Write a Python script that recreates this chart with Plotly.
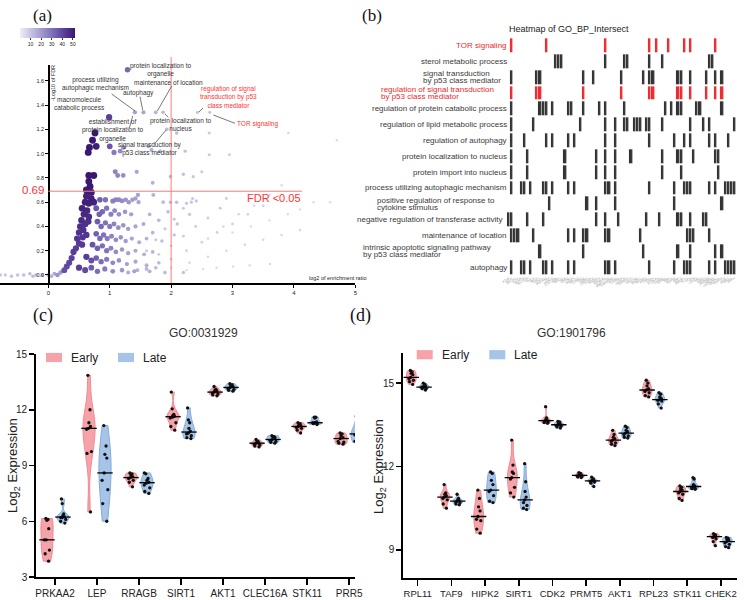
import numpy as np
import plotly.graph_objects as go

W, H = 751, 600
def fx(p): return p / W
def fy(p): return 1 - p / H

SANS = "Liberation Sans"
SERIF = "Liberation Serif"

# ---------------- Panel (a): enrichment scatter ----------------
a_x = [
    1.29, 0.99, 1.41, 1.55, 1.75, 1.87, 2.43, 2.63, 0.76, 1.93,
    0.72, 0.67, 0.78, 0.65, 1.00, 1.07, 1.17, 1.22, 1.63, 1.68, 1.82, 2.09, 2.23, 2.62, 2.62, 2.95, 3.91, 4.70,
    0.66, 0.74, 1.09, 1.13, 1.22, 1.44, 1.70, 1.99, 2.20, 2.36, 2.50, 3.80,
    0.66, 0.68, 0.62, 0.70, 0.62, 0.70, 0.60, 0.66, 0.74, 0.55, 0.63, 0.58, 0.66, 0.54, 0.60, 0.52, 0.57, 0.50, 0.56, 0.47, 0.50, 0.45, 0.41, 0.38, 0.34, 0.30, 0.26, 0.65, 0.62, 0.55,
    0.84, 0.93, 1.05, 1.10, 1.15, 1.20, 1.26, 1.31, 1.37, 1.42, 1.46, 1.47, 1.71, 1.87, 1.99, 2.09, 2.25, 2.33, 2.41, 2.90, 4.32, 4.59,
    0.78, 0.83, 0.88, 0.95, 1.02, 1.08, 1.15, 1.25, 1.35,
    0.80, 0.86, 0.93, 1.00, 1.07, 1.14, 1.22, 1.30, 1.42, 1.55,
    0.78, 0.84, 0.90, 0.96, 1.03, 1.10, 1.18, 1.26, 1.36, 1.48, 1.60,
    0.72, 0.80, 0.88, 0.95, 1.02, 1.10, 1.20, 1.30, 1.42, 1.56, 1.70,
    0.62, 0.70, 0.78, 0.86, 0.95, 1.05, 1.15, 1.28, 1.42, 1.60, 1.80,
    0.50, 0.60, 0.70, 0.80, 0.92, 1.05, 1.20, 1.40, 1.65, 1.90, 2.20,
    1.65, 1.80, 1.95, 2.10, 1.70, 1.85, 2.05, 2.30,
    1.60, 1.75, 1.90, 2.05, 2.20, 2.35,
    1.80, 2.00, 2.20, 2.40, 2.60, 2.80,
    2.00, 2.25, 2.50, 2.75, 3.00, 3.25, 3.50,
    2.00, 2.30, 2.60, 2.90, 3.20, 3.50, 3.80, 4.10,
    2.60, 2.85, 3.10, 3.35, 3.60,
    2.25, 2.52, 2.74, 3.01, 3.28, 3.61,
    3.00, 3.30, 3.60, 3.90, 4.10,
    1.30, 1.45, 1.60, 1.75,
    -0.78, -0.70, -0.60, -0.50, -0.40, -0.30, -0.20, -0.10, 0.00, 0.10, 0.20, 0.05, -0.25, 0.15,
]
a_y = [
    1.69, 1.30, 1.34, 1.34, 1.34, 1.34, 1.34, 1.34, 1.17, 1.20,
    1.11, 1.05, 1.06, 1.01, 1.06, 1.01, 1.02, 1.05, 1.06, 1.03, 1.02, 1.17, 1.02, 1.17, 0.99, 0.99, 1.17, 1.11,
    0.82, 0.82, 0.85, 0.82, 0.82, 0.85, 0.76, 0.81, 0.83, 0.81, 0.85, 0.74,
    0.77, 0.73, 0.70, 0.68, 0.65, 0.63, 0.60, 0.59, 0.60, 0.55, 0.53, 0.50, 0.48, 0.45, 0.42, 0.40, 0.37, 0.35, 0.31, 0.30, 0.26, 0.22, 0.19, 0.14, 0.10, 0.07, 0.04, 0.44, 0.33, 0.25,
    0.62, 0.62, 0.61, 0.62, 0.62, 0.61, 0.62, 0.60, 0.62, 0.63, 0.66, 0.60, 0.66, 0.60, 0.60, 0.60, 0.59, 0.60, 0.61, 0.63, 0.60, 0.60,
    0.55, 0.50, 0.52, 0.55, 0.50, 0.53, 0.50, 0.52, 0.50,
    0.44, 0.40, 0.43, 0.40, 0.42, 0.39, 0.41, 0.38, 0.40, 0.42,
    0.34, 0.30, 0.33, 0.30, 0.32, 0.29, 0.31, 0.28, 0.30, 0.27, 0.30,
    0.25, 0.22, 0.24, 0.20, 0.22, 0.19, 0.21, 0.18, 0.20, 0.17, 0.19,
    0.15, 0.12, 0.14, 0.11, 0.13, 0.10, 0.12, 0.09, 0.11, 0.08, 0.10,
    0.06, 0.04, 0.06, 0.03, 0.05, 0.03, 0.04, 0.03, 0.03, 0.02, 0.02,
    0.50, 0.45, 0.52, 0.42, 0.35, 0.28, 0.33, 0.50,
    0.20, 0.29, 0.38, 0.46, 0.55, 0.63,
    0.17, 0.24, 0.32, 0.40, 0.47, 0.55,
    0.13, 0.20, 0.27, 0.35, 0.42, 0.50, 0.57,
    0.06, 0.10, 0.15, 0.20, 0.25, 0.29, 0.33, 0.37,
    0.30, 0.40, 0.50, 0.57, 0.66,
    0.04, 0.05, 0.06, 0.07, 0.08, 0.09,
    0.35, 0.40, 0.45, 0.50, 0.54,
    0.02, 0.04, 0.05, 0.06,
    0.00, 0.00, -0.01, 0.00, 0.00, 0.01, 0.00, 0.00, 0.00, 0.01, 0.02, -0.01, -0.01, 0.00,
]
a_n = [
    32, 42, 19, 18, 14, 13, 10, 10, 52, 13,
    52, 52, 50, 52, 36, 28, 24, 22, 16, 16, 14, 12, 11, 9, 9, 8, 6, 5,
    52, 52, 26, 25, 23, 18, 15, 13, 11, 10, 9, 5,
    52, 52, 51, 51, 50, 50, 50, 50, 49, 49, 48, 48, 47, 47, 46, 46, 45, 45, 44, 44, 43, 42, 42, 41, 40, 39, 38, 46, 44, 43,
    34, 30, 27, 26, 25, 24, 22, 21, 20, 19, 19, 18, 15, 13, 12, 12, 10, 10, 10, 8, 5, 5,
    36, 34, 32, 29, 27, 25, 23, 21, 19,
    35, 32, 30, 28, 26, 24, 22, 20, 18, 16,
    34, 32, 30, 28, 26, 24, 22, 20, 18, 16, 15,
    37, 34, 31, 29, 26, 24, 21, 19, 17, 15, 14,
    42, 38, 34, 31, 28, 25, 22, 19, 17, 15, 13,
    42, 39, 35, 31, 28, 24, 21, 18, 15, 13, 11,
    14, 13, 12, 11, 14, 12, 11, 10,
    9, 9, 9, 9, 9, 9,
    8, 8, 8, 8, 8, 8,
    7, 7, 7, 7, 7, 7, 7,
    6, 6, 6, 6, 6, 6, 6, 6,
    6, 6, 6, 6, 6,
    5, 5, 5, 5, 5, 5,
    5, 5, 5, 5, 5,
    16, 15, 14, 13,
    10, 10, 11, 11, 12, 12, 13, 14, 15, 17, 20, 14, 12, 22,
]
a_yticks = [0.0, 0.2, 0.4, 0.6, 0.8, 1.0, 1.2, 1.4, 1.6]
a_xticks = [0, 1, 2, 3, 4, 5]
a_cbar_ticks = [10, 20, 30, 40, 50]
fdr_cut = 0.69
ratio_cut = 2

# term labels: text, centre (px), colour
a_labels = [
    ("protein localization to<br>organelle", 160, 70, "#333333"),
    ("process utilizing<br>autophagic mechanism", 95, 84, "#333333"),
    ("maintenance of location", 168, 83, "#333333"),
    ("autophagy", 138, 93, "#333333"),
    ("macromolecule<br>catabolic process", 79, 104, "#333333"),
    ("regulation of signal<br>transduction by p53<br>class mediator", 228, 97, "#ff3333"),
    ("TOR signaling", 257, 124, "#ff3333"),
    ("establishment of<br>protein localization to<br>organelle", 112, 131, "#333333"),
    ("protein localization to<br>nucleus", 180, 124, "#333333"),
    ("signal transduction by<br>p53 class mediator", 150, 149, "#333333"),
]
a_leaders = [
    (111.7, 94, 135, 111), (140, 96.7, 142.7, 110), (171.7, 86, 157.3, 111),
    (129.3, 128.3, 132.7, 116), (165, 114, 168.3, 117.3), (155, 143.3, 166, 130),
    (213.3, 115, 235, 123.3), (199, 112, 203, 108),
]

# ---------------- Panel (b): heatmap ----------------
b_terms = [
    "TOR signaling", "sterol metabolic process",
    "signal transduction|by p53 class mediator",
    "regulation of signal transduction|by p53 class mediator",
    "regulation of protein catabolic process",
    "regulation of lipid metabolic process", "regulation of autophagy",
    "protein localization to nucleus", "protein import into nucleus",
    "process utilizing autophagic mechanism",
    "positive regulation of response to|cytokine stimulus",
    "negative regulation of transferase activity", "maintenance of location",
    "intrinsic apoptotic signaling pathway|by p53 class mediator", "autophagy",
]
b_red_rows = [0, 3]
b_genes = [
    "ATG5", "ATG7", "BECN1", "ULK1", "MTOR", "RPTOR", "RICTOR", "TSC1", "TSC2", "AKT1",
    "SIRT1", "STK11", "PRKAA2", "LEP", "RRAGB", "CLEC16A", "PRR5", "RPL11", "TAF9", "HIPK2",
    "CDK2", "PRMT5", "RPL23", "CHEK2", "TP53", "MDM2", "CDKN1A", "FOXO3", "SESN2", "DDIT4",
    "PIK3C3", "SQSTM1", "MAP1LC3B", "GABARAP", "WIPI2", "LAMP2", "TFEB", "HMGCR", "SREBF2", "LDLR",
    "INSIG1", "SCAP", "PPARG", "NR1H3", "APOE", "LPIN1", "FASN", "ACACA", "CPT1A", "KPNA2",
    "KPNB1", "RAN", "XPO1", "NUP98", "BAX", "BBC3", "PMAIP1", "BCL2", "ATM", "ATR",
    "CASP3", "PML", "USP7", "EP300", "CREBBP", "HSPA8", "HSP90AA1", "UBQLN1", "PSMD4", "VCP",
    "PARK7", "PINK1", "PRKN",
]
b_hits = [
    [1, 12, 31, 45, 47, 51, 56, 58, 66],
    [15, 16, 17, 31, 37, 38, 45, 49, 64, 65],
    [1, 9, 10, 24, 27, 36, 43, 45, 46, 54, 55, 58, 63, 66, 68],
    [1, 9, 10, 24, 36, 45, 46, 54, 55, 58, 63, 66, 68],
    [1, 10, 11, 12, 14, 19, 20, 24, 29, 31, 37, 50, 52, 54, 55, 60, 61, 68],
    [1, 8, 23, 31, 34, 37, 38, 40, 41, 42, 44, 45, 49, 58, 62, 64, 72],
    [1, 5, 12, 14, 19, 21, 31, 34, 45, 53, 56, 58, 64, 66, 70],
    [1, 6, 18, 28, 31, 34, 39, 49, 54, 55, 59, 66, 67],
    [1, 6, 18, 28, 31, 34, 49, 55, 67],
    [1, 4, 5, 7, 11, 12, 14, 19, 21, 31, 32, 34, 45, 53, 56, 57, 58, 64, 66, 69, 70, 71, 72],
    [13, 25, 28, 34, 53, 68],
    [0, 1, 6, 11, 28, 31, 35, 44, 48, 54, 55, 58, 62, 63],
    [1, 2, 3, 8, 19, 21, 24, 25, 31, 32, 42, 57, 58, 59, 64],
    [10, 24, 43, 54, 58, 66, 68],
    [1, 4, 5, 7, 11, 12, 14, 19, 21, 31, 32, 34, 45, 53, 56, 57, 58, 64, 66, 69, 70, 71, 72],
]
# left edge (px) of two-line labels
b_block_left = {2: 421.7, 3: 380, 10: 376, 13: 361.7}

# ---------------- Panel (c) / (d): violins ----------------
c_genes = ["PRKAA2", "LEP", "RRAGB", "SIRT1", "AKT1", "CLEC16A", "STK11", "PRR5"]
c_early = [
    [6.1, 6.15, 6.05, 5.6, 5.0, 5.0, 4.45, 4.25, 3.85],
    [13.85, 12.0, 11.3, 11.1, 11.0, 10.95, 9.75, 9.65, 6.5],
    [8.6, 8.55, 8.5, 8.4, 8.35, 8.3, 8.2, 8.1, 7.85],
    [12.95, 12.05, 11.75, 11.7, 11.65, 11.6, 11.55, 11.3, 11.1, 10.9],
    [13.25, 13.1, 13.05, 13.0, 12.95, 12.9, 12.85, 12.8, 12.75],
    [10.4, 10.3, 10.25, 10.2, 10.2, 10.15, 10.1, 10.05, 10.0],
    [11.3, 11.25, 11.2, 11.15, 11.1, 11.05, 11.0, 10.9, 10.75],
    [10.75, 10.7, 10.6, 10.5, 10.45, 10.3, 10.25, 10.2, 10.15],
]
c_late = [
    [7.2, 6.95, 6.4, 6.3, 6.25, 6.2, 6.2, 6.1, 6.0, 5.9],
    [11.15, 10.05, 9.6, 9.4, 8.6, 8.2, 7.7, 6.95, 6.0],
    [8.6, 8.55, 8.3, 8.2, 8.1, 8.05, 7.95, 7.8, 7.6, 7.5],
    [12.1, 11.45, 11.3, 11.0, 10.85, 10.75, 10.7, 10.6, 10.5, 10.45],
    [13.4, 13.35, 13.3, 13.25, 13.2, 13.15, 13.1, 13.05, 13.0],
    [10.6, 10.55, 10.55, 10.5, 10.4, 10.35, 10.3, 10.25, 10.2],
    [11.6, 11.6, 11.55, 11.35, 11.3, 11.3, 11.25, 11.25, 11.2],
    [11.65, 11.1, 10.9, 10.75, 10.7, 10.65, 10.4, 10.3, 10.25],
]
c_yticks = [3, 6, 9, 12, 15]

d_genes = ["RPL11", "TAF9", "HIPK2", "SIRT1", "CDK2", "PRMT5", "AKT1", "RPL23", "STK11", "CHEK2"]
d_early = [
    [15.45, 15.4, 15.35, 15.3, 15.2, 15.15, 15.1, 15.05, 14.95],
    [11.35, 11.05, 11.0, 10.95, 10.9, 10.85, 10.8, 10.65, 10.5],
    [11.15, 10.85, 10.55, 10.4, 10.2, 10.1, 10.05, 9.75, 9.6],
    [12.95, 12.05, 11.8, 11.75, 11.6, 11.55, 11.25, 11.05, 10.9],
    [14.15, 13.75, 13.7, 13.68, 13.65, 13.62, 13.6, 13.58, 13.55],
    [11.78, 11.75, 11.72, 11.7, 11.68, 11.66, 11.64, 11.62, 11.6],
    [13.3, 13.15, 13.05, 13.0, 12.95, 12.9, 12.85, 12.8, 12.75],
    [15.1, 15.0, 14.9, 14.8, 14.75, 14.7, 14.65, 14.55, 14.5],
    [11.3, 11.25, 11.2, 11.15, 11.1, 11.05, 11.0, 10.85, 10.78],
    [9.58, 9.55, 9.52, 9.5, 9.48, 9.45, 9.4, 9.3, 9.15],
]
d_late = [
    [15.0, 14.95, 14.9, 14.9, 14.85, 14.85, 14.8, 14.8, 14.75],
    [11.0, 10.85, 10.8, 10.78, 10.75, 10.72, 10.7, 10.65, 10.62],
    [11.8, 11.75, 11.5, 11.35, 11.15, 11.1, 10.95, 10.75, 10.7],
    [12.1, 11.45, 11.1, 10.9, 10.8, 10.7, 10.6, 10.5, 10.45],
    [13.62, 13.6, 13.55, 13.52, 13.5, 13.48, 13.45, 13.42, 13.38],
    [11.62, 11.55, 11.52, 11.5, 11.48, 11.46, 11.44, 11.4, 11.28],
    [13.45, 13.4, 13.3, 13.25, 13.2, 13.15, 13.1, 13.05, 13.02],
    [14.65, 14.6, 14.5, 14.45, 14.4, 14.38, 14.35, 14.25, 14.1],
    [11.6, 11.55, 11.35, 11.3, 11.28, 11.25, 11.22, 11.2, 11.18],
    [9.45, 9.42, 9.38, 9.35, 9.3, 9.25, 9.2, 9.12, 9.08],
]
d_yticks = [9, 12, 15]

groups = ["Early", "Late"]
EARLY_FILL, EARLY_LINE = "#f5a3a8", "#ef8a92"
LATE_FILL, LATE_LINE = "#a5c4e7", "#86acd9"

fig = go.Figure()

# ---- (a) scatter
order = np.argsort(np.array(a_n), kind="stable")
ax_ = np.array(a_x)[order]
ay_ = np.array(a_y)[order]
an_ = np.array(a_n)[order]
purple = [[0, "#efeff8"], [0.15, "#d0cde8"], [0.35, "#a9a2d3"],
          [0.6, "#7c6cb6"], [0.8, "#5a3f9a"], [1, "#3a1872"]]
fig.add_trace(go.Scatter(
    x=ax_, y=ay_, mode="markers", xaxis="x", yaxis="y", hoverinfo="skip",
    marker=dict(size=0.9 * np.sqrt(an_) + 0.4, color=an_, colorscale=purple,
                cmin=0, cmax=52, line=dict(width=0), opacity=1,
                showscale=True,
                colorbar=dict(orientation="h", x=fx(20), xanchor="left",
                              y=fy(47), yanchor="bottom", len=55 / W,
                              lenmode="fraction", thickness=10,
                              thicknessmode="pixels", tickvals=a_cbar_ticks,
                              ticks="outside", ticklen=2, tickwidth=0.8,
                              tickcolor="#000", outlinewidth=0, xpad=0, ypad=0,
                              tickfont=dict(size=5, family=SANS, color="#222"))),
    showlegend=False))

# ---- (b) heatmap
nrow, ncol = len(b_terms), len(b_genes)
z = np.zeros((nrow, ncol))
for r, cols in enumerate(b_hits):
    z[r, cols] = 2 if r in b_red_rows else 1
fig.add_trace(go.Heatmap(
    z=z, x=list(range(ncol)), y=list(range(nrow)), xaxis="x2", yaxis="y2",
    zmin=0, zmax=2, showscale=False, xgap=0.6, ygap=2, hoverinfo="skip",
    colorscale=[[0, "#ffffff"], [0.33, "#ffffff"], [0.34, "#333333"],
                [0.66, "#333333"], [0.67, "#ec2a2f"], [1, "#ec2a2f"]]))

# ---- (c), (d) violins: one trace per violin so each gets its own width scale
def add_violins(genes, early, late, xa, ya):
    for vals, off, fill, line in [(early, -0.19, EARLY_FILL, EARLY_LINE),
                                  (late, 0.19, LATE_FILL, LATE_LINE)]:
        for i, v in enumerate(vals):
            fig.add_trace(go.Violin(
                x=[i + off] * len(v), y=v, xaxis=xa, yaxis=ya, width=0.29,
                scalemode="width", spanmode="hard", fillcolor=fill,
                line=dict(color=line, width=1), points="all", pointpos=0,
                jitter=0.6, marker=dict(color="#111111", size=3.3),
                box_visible=False, meanline_visible=False, showlegend=False,
                hoverinfo="skip", opacity=1))
        fig.add_trace(go.Scatter(
            x=[i + off for i in range(len(vals))],
            y=[float(np.median(v)) for v in vals], xaxis=xa, yaxis=ya,
            mode="markers", hoverinfo="skip", showlegend=False,
            marker=dict(symbol="line-ew", size=11,
                        line=dict(width=1.3, color="#000"))))

add_violins(c_genes, c_early, c_late, "x3", "y3")
add_violins(d_genes, d_early, d_late, "x4", "y4")

axis_common = dict(showgrid=False, zeroline=False, showline=True,
                   linecolor="#000", ticks="outside", tickcolor="#000")

layout = dict(
    width=W, height=H, margin=dict(l=0, r=0, t=0, b=0, autoexpand=False),
    paper_bgcolor="white", plot_bgcolor="rgba(0,0,0,0)", showlegend=False,
    font=dict(family=SANS, color="#222"),
    xaxis=dict(axis_common, domain=[0, fx(355.3)], range=[-0.787, 5.0],
               anchor="y", tickvals=a_xticks, ticklen=3, linewidth=1.5,
               tickwidth=1, tickfont=dict(size=6)),
    yaxis=dict(axis_common, domain=[fy(283), fy(65)], range=[-0.066, 1.73],
               anchor="free", position=fx(48.3), tickvals=a_yticks,
               ticktext=["%.1f" % v for v in a_yticks], ticklen=3,
               linewidth=1.5, tickwidth=1, tickfont=dict(size=5.5)),
    xaxis2=dict(domain=[fx(506.9), fx(736)], range=[-0.5, ncol - 0.5],
                anchor="y2", showgrid=False, zeroline=False, showline=False,
                tickvals=list(range(ncol)), ticktext=b_genes, tickangle=-35,
                ticks="", tickfont=dict(size=3, color="#999999")),
    yaxis2=dict(domain=[fy(275), fy(37.3)], range=[nrow - 0.5, -0.5],
                anchor="x2", showgrid=False, zeroline=False, showline=False,
                showticklabels=False, ticks=""),
    xaxis3=dict(axis_common, domain=[fx(36), fx(355)], range=[-0.452, 7.14],
                anchor="y3", tickvals=list(range(len(c_genes))),
                ticktext=c_genes, ticklen=6, linewidth=1.8, tickwidth=1.5,
                tickfont=dict(size=10, color="#222")),
    yaxis3=dict(axis_common, domain=[fy(577), fy(354)], range=[3, 15],
                anchor="x3", tickvals=c_yticks, ticklen=5, linewidth=1.8,
                tickwidth=1.5, tickfont=dict(size=10, color="#222")),
    xaxis4=dict(axis_common, domain=[fx(403), fx(736.7)], range=[-0.436, 9.47],
                anchor="y4", tickvals=list(range(len(d_genes))),
                ticktext=d_genes, ticklen=6, linewidth=1.8, tickwidth=1.5,
                tickfont=dict(size=9.5, color="#222")),
    yaxis4=dict(axis_common, domain=[fy(577.7), fy(353)], range=[8.0, 16.08],
                anchor="x4", tickvals=d_yticks, ticklen=5, linewidth=1.8,
                tickwidth=1.5, tickfont=dict(size=10, color="#222")),
)
fig.update_layout(**layout)

ann = []
def txt(text, x, y, size, color="#222", xanchor="center", yanchor="middle",
        family=SANS, xref="paper", yref="paper", angle=0, align="center"):
    ann.append(dict(text=text, x=x, y=y, xref=xref, yref=yref,
                    xanchor=xanchor, yanchor=yanchor, showarrow=False,
                    textangle=angle, align=align, borderpad=0,
                    font=dict(size=size, color=color, family=family)))

# panel letters
txt("(a)", fx(42), fy(16), 17, "#111", family=SERIF)
txt("(b)", fx(372), fy(16), 17, "#111", family=SERIF)
txt("(c)", fx(43), fy(316), 18, "#111", family=SERIF)
txt("(d)", fx(360), fy(316), 18, "#111", family=SERIF)

# (a) texts
for t, x, y, col in a_labels:
    txt(t, fx(x), fy(y), 6.5, col)
txt("-Log10 of FDR", fx(53), fy(83), 5.5, "#222", angle=-90)
txt("log2 of enrichment ratio", fx(367), fy(278), 5.5, "#222", xanchor="right")
txt("0.69", fx(45), fy(190), 11.5, "#ff3333", xanchor="right")
txt("FDR <0.05", fx(302), fy(198), 11, "#ff3333", xanchor="right")

# (b) texts
txt("Heatmap of GO_BP_Intersect", fx(508), fy(29), 9, "#222", xanchor="left")
for r, term in enumerate(b_terms):
    col = "#ec2a2f" if r in b_red_rows else "#3a3a3a"
    parts = term.split("|")
    if len(parts) == 1:
        right = 503 if r == 11 else 508
        txt(parts[0], fx(right), r, 8, col, xanchor="right", yref="y2")
    else:
        left = b_block_left[r]
        txt(parts[0], fx(left), r - 0.23, 8, col, xanchor="left", yref="y2")
        txt(parts[1], fx(left), r + 0.23, 8, col, xanchor="left", yref="y2")

# (c)/(d) titles, axis titles, legends
txt("GO:0031929", fx(203), fy(333), 12, "#333")
txt("GO:1901796", fx(571), fy(333), 12, "#333")
txt("Log<sub>2</sub> Expression", fx(14), fy(466), 13, "#222", angle=-90)
txt("Log<sub>2</sub> Expression", fx(379), fy(467), 13, "#222", angle=-90)

shapes = []
def rect(x0, y0, x1, y1, color):
    shapes.append(dict(type="rect", xref="paper", yref="paper", x0=fx(x0),
                       x1=fx(x1), y0=fy(y1), y1=fy(y0), fillcolor=color,
                       line=dict(width=0)))

for (ex, lx, cy) in [(46, 118, 357.5), (416.7, 489.3, 354.7)]:
    rect(ex, cy - 4.6, ex + 16, cy + 4.6, EARLY_FILL)
    rect(lx, cy - 4.6, lx + 16, cy + 4.6, LATE_FILL)
    txt(groups[0], fx(ex + 24), fy(cy), 12, "#222", xanchor="left")
    txt(groups[1], fx(lx + 24), fy(cy), 12, "#222", xanchor="left")

# (a) reference lines
shapes.append(dict(type="line", xref="x", yref="paper", x0=ratio_cut,
                   x1=ratio_cut, y0=fy(283), y1=fy(57),
                   line=dict(color="#ff7b7b", width=1)))
shapes.append(dict(type="line", xref="x", yref="y", x0=0, x1=4.13,
                   y0=fdr_cut, y1=fdr_cut,
                   line=dict(color="#ff7b7b", width=1)))
for x0, y0, x1, y1 in a_leaders:
    shapes.append(dict(type="line", xref="paper", yref="paper", x0=fx(x0),
                       y0=fy(y0), x1=fx(x1), y1=fy(y1),
                       line=dict(color="#555555", width=0.8)))

fig.update_layout(annotations=ann, shapes=shapes)
fig.write_html(
    "out.html",
    config={"displayModeBar": False, "staticPlot": True},
    post_script="document.body.style.margin='0';document.body.style.padding='0';",
)
